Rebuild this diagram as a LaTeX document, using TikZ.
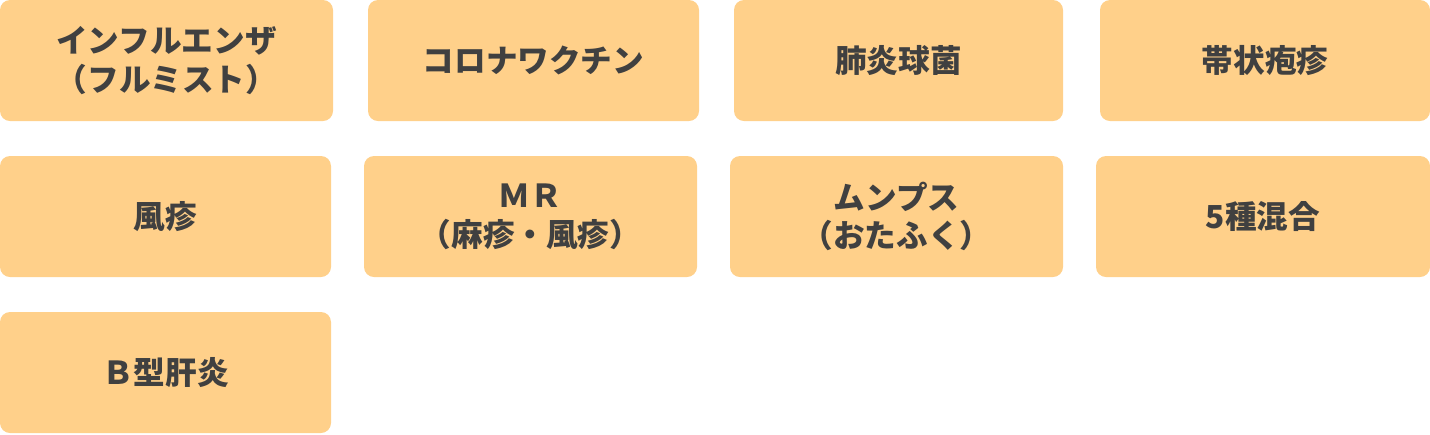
\documentclass[tikz,border=0pt]{standalone}
\usepackage{fontspec}
\newfontfamily\jpfont{Noto Sans CJK JP}
\definecolor{boxfill}{HTML}{FFD08A}
\definecolor{boxtext}{HTML}{404040}
\newlength{\pxu}
\setlength{\pxu}{0.02cm}
\tikzset{
  vaccine/.style={fill=boxfill, rounded corners=10\pxu, text=boxtext,
    font=\jpfont\bfseries\fontsize{18}{22}\selectfont, align=center, inner sep=0pt,
    minimum height=121\pxu, minimum width=#1\pxu},
  vaccine/.default=331
}
\begin{document}
\begin{tikzpicture}[x=0.02cm,y=-0.02cm]
    \useasboundingbox (0,0) rectangle (1430,434);
    % row 1
    \node[vaccine=333] (flu) at (166.5,60.5) {インフルエンザ\\（フルミスト）};
    \node[vaccine=331] (covid) at (533.5,60.5) {コロナワクチン};
    \node[vaccine=329] (pneumo) at (898.5,60.5) {肺炎球菌};
    \node[vaccine=330] (zoster) at (1265,60.5) {帯状疱疹};
    % row 2
    \node[vaccine] (rubella) at (165.5,216.5) {風疹};
    \node[vaccine=333] (mr) at (530.5,216.5) {ＭＲ\\（麻疹・風疹）};
    \node[vaccine=333] (mumps) at (896.5,216.5) {ムンプス\\（おたふく）};
    \node[vaccine=334] (five) at (1263,216.5) {5種混合};
    % row 3
    \node[vaccine] (hepb) at (165.5,372.5) {Ｂ型肝炎};
\end{tikzpicture}
\end{document}
